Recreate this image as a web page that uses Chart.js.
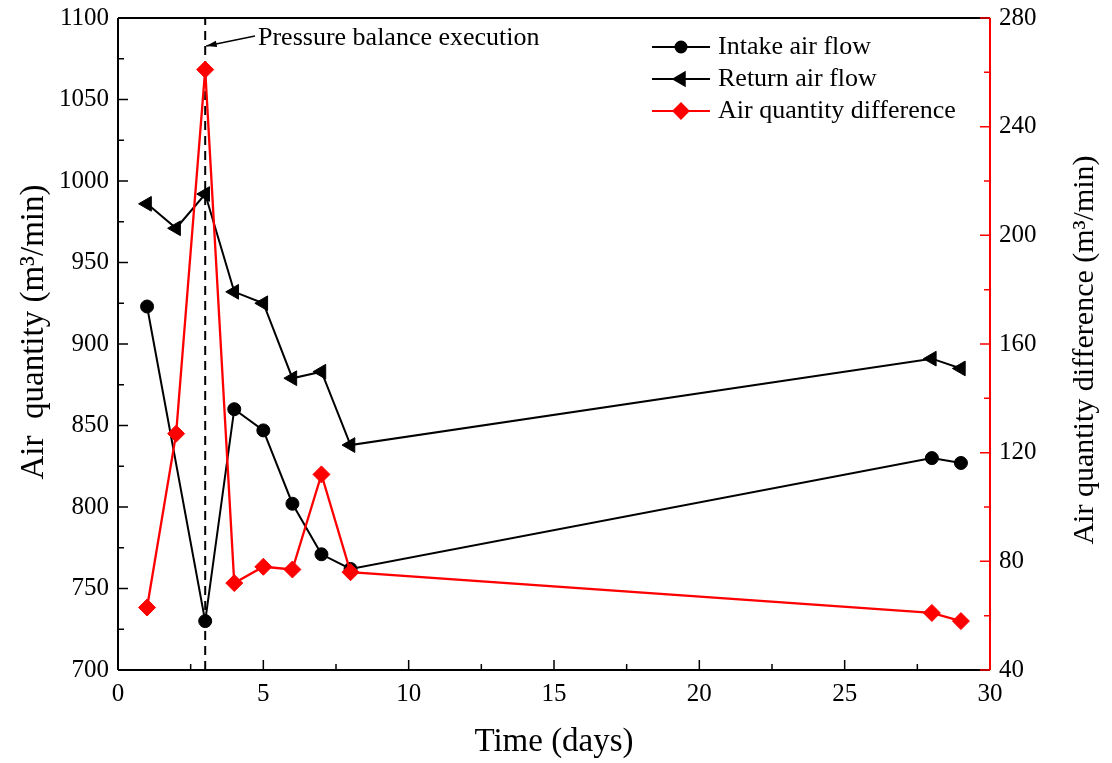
<!DOCTYPE html>
<html>
<head>
<meta charset="utf-8">
<script src="https://cdn.jsdelivr.net/npm/chart.js@4.4.0/dist/chart.umd.min.js"></script>
<style>
html,body{margin:0;padding:0;background:#fff;}
#wrap{width:1112px;height:763px;position:relative;}
</style>
</head>
<body>
<div id="wrap"><canvas id="c" width="1112" height="763"></canvas></div>
<script>
const intakeDays = [1, 3, 4, 5, 6, 7, 8, 28, 29];
const intakeFlow = [923, 730, 860, 847, 802, 771, 762, 830, 827];
const returnDays = [1, 2, 3, 4, 5, 6, 7, 8, 28, 29];
const returnFlow = [986, 971, 992, 932, 925, 879, 883, 838, 891, 885];
const diffDays = [1, 2, 3, 4, 5, 6, 7, 8, 28, 29];
const diffValues = [63, 127, 261, 72, 78, 77, 112, 76, 61, 58];
const eventDay = 3;
const xTicks = [0, 5, 10, 15, 20, 25, 30];
const leftTicks = [700, 750, 800, 850, 900, 950, 1000, 1050, 1100];
const rightTicks = [40, 80, 120, 160, 200, 240, 280];

const FONT = "'Liberation Serif', 'Times New Roman', serif";
const pts = (xs, ys) => xs.map((x, i) => ({x: x, y: ys[i]}));

const customPlugin = {
  id: 'custom',
  afterDraw(chart) {
    const ctx = chart.ctx;
    const ca = chart.chartArea;
    const xs = chart.scales.x, yl = chart.scales.y, yr = chart.scales.y2;
    ctx.save();
    // frame
    ctx.lineWidth = 2;
    ctx.strokeStyle = '#000';
    ctx.beginPath();
    ctx.moveTo(ca.left, ca.top); ctx.lineTo(ca.right, ca.top);
    ctx.moveTo(ca.left, ca.top); ctx.lineTo(ca.left, ca.bottom);
    ctx.moveTo(ca.left, ca.bottom); ctx.lineTo(ca.right, ca.bottom);
    ctx.stroke();
    // x ticks
    ctx.lineWidth = 1.5;
    ctx.beginPath();
    for (let v = 0; v <= 30; v += 2.5) {
      const px = xs.getPixelForValue(v);
      const len = (v % 5 === 0) ? 10 : 6;
      ctx.moveTo(px, ca.bottom); ctx.lineTo(px, ca.bottom - len);
    }
    for (let v = 700; v <= 1100; v += 25) {
      const py = yl.getPixelForValue(v);
      const len = (v % 50 === 0) ? 10 : 6;
      ctx.moveTo(ca.left, py); ctx.lineTo(ca.left + len, py);
    }
    ctx.stroke();
    // right axis
    ctx.strokeStyle = '#ff0000';
    ctx.lineWidth = 2;
    ctx.beginPath();
    ctx.moveTo(ca.right, ca.top); ctx.lineTo(ca.right, ca.bottom);
    ctx.stroke();
    ctx.lineWidth = 1.5;
    ctx.beginPath();
    for (let v = 40; v <= 280; v += 20) {
      const py = yr.getPixelForValue(v);
      const len = (v % 40 === 0) ? 10 : 6;
      ctx.moveTo(ca.right, py); ctx.lineTo(ca.right - len, py);
    }
    ctx.stroke();

    // axis titles
    ctx.fillStyle = '#000';
    ctx.font = '33px ' + FONT;
    ctx.textAlign = 'center';
    ctx.textBaseline = 'middle';
    ctx.fillText('Time (days)', (ca.left + ca.right) / 2, 742);
    ctx.save();
    ctx.translate(34, 332);
    ctx.rotate(-Math.PI / 2);
    ctx.fillText('Air  quantity (m\u00B3/min)', 0, 0);
    ctx.restore();
    ctx.save();
    ctx.font = '30px ' + FONT;
    ctx.translate(1085, 350);
    ctx.rotate(-Math.PI / 2);
    ctx.fillText('Air quantity difference (m\u00B3/min)', 0, 0);
    ctx.restore();

    // annotation
    const ax = xs.getPixelForValue(eventDay);
    ctx.font = '26px ' + FONT;
    ctx.textAlign = 'left';
    ctx.fillText('Pressure balance execution', 258, 38);
    ctx.strokeStyle = '#000';
    ctx.lineWidth = 1.3;
    const tipX = ax + 1, tipY = 46, tailX = 255, tailY = 36;
    ctx.beginPath(); ctx.moveTo(tailX, tailY); ctx.lineTo(tipX, tipY); ctx.stroke();
    const ang = Math.atan2(tipY - tailY, tipX - tailX);
    ctx.beginPath();
    ctx.moveTo(tipX, tipY);
    ctx.lineTo(tipX - 11 * Math.cos(ang - 0.3), tipY - 11 * Math.sin(ang - 0.3));
    ctx.lineTo(tipX - 11 * Math.cos(ang + 0.3), tipY - 11 * Math.sin(ang + 0.3));
    ctx.closePath();
    ctx.fillStyle = '#000';
    ctx.fill();

    // legend
    const items = [
      {label: 'Intake air flow', color: '#000', style: 'circle', rot: 0, r: 5.5},
      {label: 'Return air flow', color: '#000', style: 'triangle', rot: -90, r: 7.5},
      {label: 'Air quantity difference', color: '#ff0000', style: 'rectRot', rot: 0, r: 7.5}
    ];
    ctx.font = '26px ' + FONT;
    ctx.textBaseline = 'middle';
    items.forEach((it, i) => {
      const y = 47 + i * 32;
      ctx.strokeStyle = it.color;
      ctx.lineWidth = 2;
      ctx.beginPath(); ctx.moveTo(652, y); ctx.lineTo(710, y); ctx.stroke();
      ctx.fillStyle = it.color;
      Chart.helpers.drawPoint(ctx, {pointStyle: it.style, radius: it.r, rotation: it.rot, borderWidth: 1}, 681, y);
      ctx.fillStyle = '#000';
      ctx.fillText(it.label, 718, y);
    });
    ctx.restore();
  }
};

const tickFont = {family: FONT, size: 25};
new Chart(document.getElementById('c'), {
  type: 'line',
  data: {
    datasets: [
      {
        label: 'Air quantity difference', data: pts(diffDays, diffValues), yAxisID: 'y2',
        borderColor: '#ff0000', backgroundColor: '#ff0000', borderWidth: 2.3,
        pointStyle: 'rectRot', pointRadius: 8.5, pointBorderWidth: 1, order: 1
      },
      {
        label: 'Intake air flow', data: pts(intakeDays, intakeFlow), yAxisID: 'y',
        borderColor: '#000', backgroundColor: '#000', borderWidth: 2,
        pointStyle: 'circle', pointRadius: 6.5, pointBorderWidth: 1, order: 2
      },
      {
        label: 'Return air flow', data: pts(returnDays, returnFlow), yAxisID: 'y',
        borderColor: '#000', backgroundColor: '#000', borderWidth: 2,
        pointStyle: 'triangle', pointRotation: -90, pointRadius: 8.5, pointBorderWidth: 1, order: 3
      },
      {
        label: 'event', data: [{x: eventDay, y: 700}, {x: eventDay, y: 1100}], yAxisID: 'y',
        borderColor: '#000', borderWidth: 2, borderDash: [9, 6], pointRadius: 0, order: 4
      }
    ]
  },
  options: {
    responsive: false,
    animation: false,
    clip: false,
    layout: {padding: {top: 18, left: 0, right: 0, bottom: 0}},
    plugins: {legend: {display: false}, tooltip: {enabled: false}},
    scales: {
      x: {
        type: 'linear', min: 0, max: 30,
        afterBuildTicks: s => { s.ticks = xTicks.map(v => ({value: v})); },
        afterFit: s => { s.height = 93; s.paddingLeft = 0; s.paddingRight = 0; },
        grid: {display: false, drawTicks: false},
        border: {display: false},
        ticks: {padding: 9, color: '#000', font: tickFont, maxRotation: 0, callback: v => String(v)}
      },
      y: {
        type: 'linear', position: 'left', min: 700, max: 1100,
        afterBuildTicks: s => { s.ticks = leftTicks.map(v => ({value: v})); },
        afterFit: s => { s.width = 118; s.paddingTop = 0; s.paddingBottom = 0; },
        grid: {display: false, drawTicks: false},
        border: {display: false},
        ticks: {padding: 9, color: '#000', font: tickFont, callback: v => String(v)}
      },
      y2: {
        type: 'linear', position: 'right', min: 40, max: 280,
        afterBuildTicks: s => { s.ticks = rightTicks.map(v => ({value: v})); },
        afterFit: s => { s.width = 122; s.paddingTop = 0; s.paddingBottom = 0; },
        grid: {display: false, drawTicks: false},
        border: {display: false},
        ticks: {padding: 9, color: '#000', font: tickFont, callback: v => String(v)}
      }
    }
  },
  plugins: [customPlugin]
});
</script>
</body>
</html>
